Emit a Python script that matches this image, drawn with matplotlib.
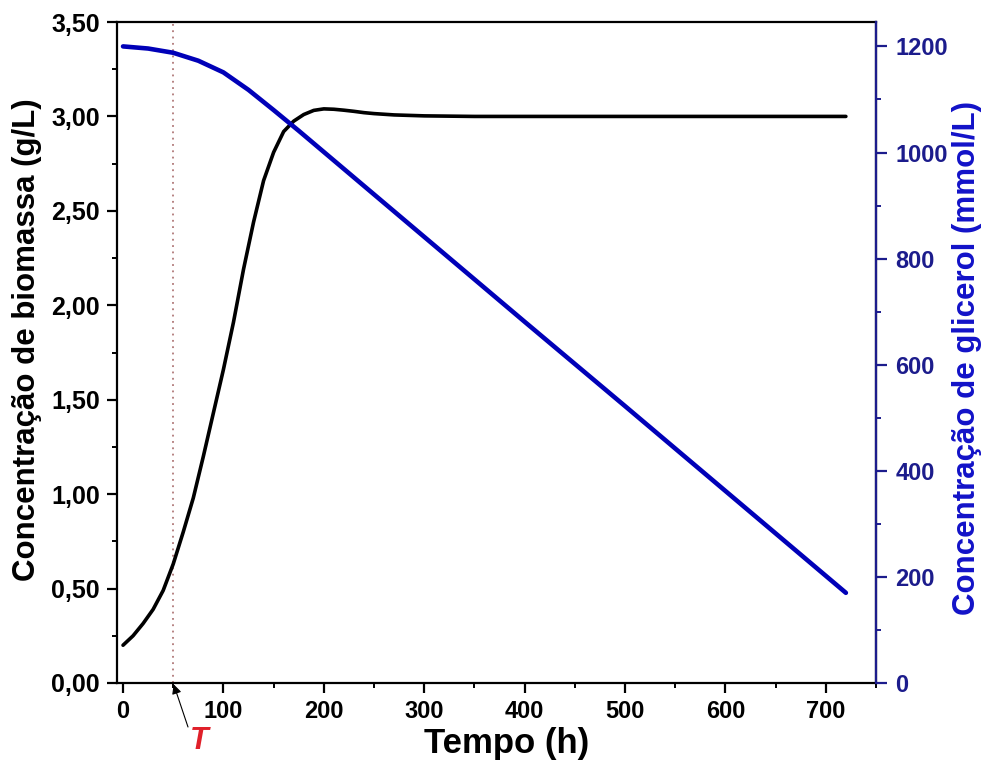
import matplotlib
matplotlib.use("Agg")
import matplotlib.pyplot as plt
from matplotlib.ticker import MultipleLocator, FuncFormatter

# ---------------- data ----------------
time_bio = [0, 10, 20, 30, 40, 50, 60, 70, 80, 90, 100, 110, 120, 130, 140,
            150, 160, 170, 180, 190, 200, 210, 220, 230, 240, 250, 270, 300,
            350, 400, 500, 600, 720]
biomass = [0.20, 0.25, 0.315, 0.39, 0.49, 0.63, 0.80, 0.98, 1.20, 1.43, 1.66,
           1.91, 2.19, 2.44, 2.66, 2.81, 2.92, 2.975, 3.01, 3.032, 3.04, 3.038,
           3.033, 3.027, 3.02, 3.015, 3.008, 3.003, 3.0, 3.0, 3.0, 3.0, 3.0]

time_gli = [0, 25, 50, 75, 100, 125, 150, 175, 200, 250, 300, 400, 500, 600,
            700, 720]
glicerol = [1200, 1196, 1188, 1173, 1151, 1118, 1080, 1041, 1001, 921, 841,
            681, 522, 362, 202, 170]

t_mark = 50
x_ticks = [0, 100, 200, 300, 400, 500, 600, 700]
y_left_ticks = [0, 0.5, 1.0, 1.5, 2.0, 2.5, 3.0, 3.5]
y_right_ticks = [0, 200, 400, 600, 800, 1000, 1200]

xlabel = "Tempo (h)"
ylabel_left = "Concentração de biomassa (g/L)"
ylabel_right = "Concentração de glicerol (mmol/L)"
mark_label = "T"

# ---------------- style ----------------
plt.rcParams['font.family'] = ['Liberation Sans', 'DejaVu Sans']
plt.rcParams['font.weight'] = 'bold'

BLUE_LINE = '#0000b8'
BLUE_AX = '#1c1c8c'
BLUE_LABEL = '#1212c8'

W, H = 989, 762
fig = plt.figure(figsize=(W / 100, H / 100), dpi=100)
ax = fig.add_axes([117 / W, 1 - 683 / H, (876 - 117) / W, (683 - 22) / H])
ax2 = ax.twinx()

ax.plot(time_bio, biomass, color='black', lw=2.6, solid_capstyle='round',
        solid_joinstyle='round', zorder=3)
ax2.plot(time_gli, glicerol, color=BLUE_LINE, lw=3.3, solid_capstyle='round',
         solid_joinstyle='round', zorder=3)
ax.axvline(t_mark, color='#b07878', ls=(0, (1, 2.5)), lw=1.3, zorder=1)

ax.set_xlim(-6, 750)
ax.set_ylim(0, 3.5)
ax2.set_ylim(0, 1246)

ax.set_xticks(x_ticks)
ax.xaxis.set_minor_locator(MultipleLocator(50))
ax.set_yticks(y_left_ticks)
ax.yaxis.set_minor_locator(MultipleLocator(0.25))
ax.yaxis.set_major_formatter(FuncFormatter(lambda v, p: f"{v:.2f}".replace('.', ',')))
ax2.set_yticks(y_right_ticks)
ax2.yaxis.set_minor_locator(MultipleLocator(100))

for a in (ax, ax2):
    for s in a.spines.values():
        s.set_linewidth(1.6)

ax.tick_params(axis='x', which='major', direction='out', length=7.5, width=1.6,
               labelsize=17, pad=5)
ax.tick_params(axis='y', which='major', direction='out', length=7.5, width=1.6,
               labelsize=18, pad=5)
ax.tick_params(axis='both', which='minor', direction='out', length=3.8, width=1.4)
ax.tick_params(axis='x', which='both', top=False)
ax2.tick_params(axis='y', which='major', direction='out', length=8, width=1.6,
                labelsize=17, colors=BLUE_AX, pad=6)
ax2.tick_params(axis='y', which='minor', direction='out', length=3.8, width=1.4,
                colors=BLUE_AX)
ax2.spines['right'].set_color(BLUE_AX)
ax2.spines['left'].set_visible(False)
ax2.spines['top'].set_visible(False)
ax2.spines['bottom'].set_visible(False)

for lab in ax.get_xticklabels() + ax.get_yticklabels() + ax2.get_yticklabels():
    lab.set_fontweight('bold')

# axis titles
fig.text(507 / W, 1 - 727 / H, xlabel, fontsize=25, fontweight='bold',
         ha='center', va='top')
fig.text(27 / W, 1 - 340 / H, ylabel_left, fontsize=22.5, fontweight='bold',
         rotation=90, ha='center', va='center')
fig.text(967 / W, 1 - 358 / H, ylabel_right, fontsize=22.5, fontweight='bold',
         rotation=90, ha='center', va='center', color=BLUE_LABEL)

# arrow and "T" marker below the axis
ax.annotate('', xy=(t_mark, 0), xycoords='data',
            xytext=(188, H - 727), textcoords='figure pixels',
            annotation_clip=False,
            arrowprops=dict(arrowstyle='-|>', color='black', lw=0.8,
                            mutation_scale=14, shrinkA=0, shrinkB=1))
fig.text(199 / W, 1 - 741 / H, mark_label, color='#e0202a', fontsize=22,
         fontweight='bold', fontstyle='italic', ha='center', va='center')

fig.savefig('out.png', dpi=100)
